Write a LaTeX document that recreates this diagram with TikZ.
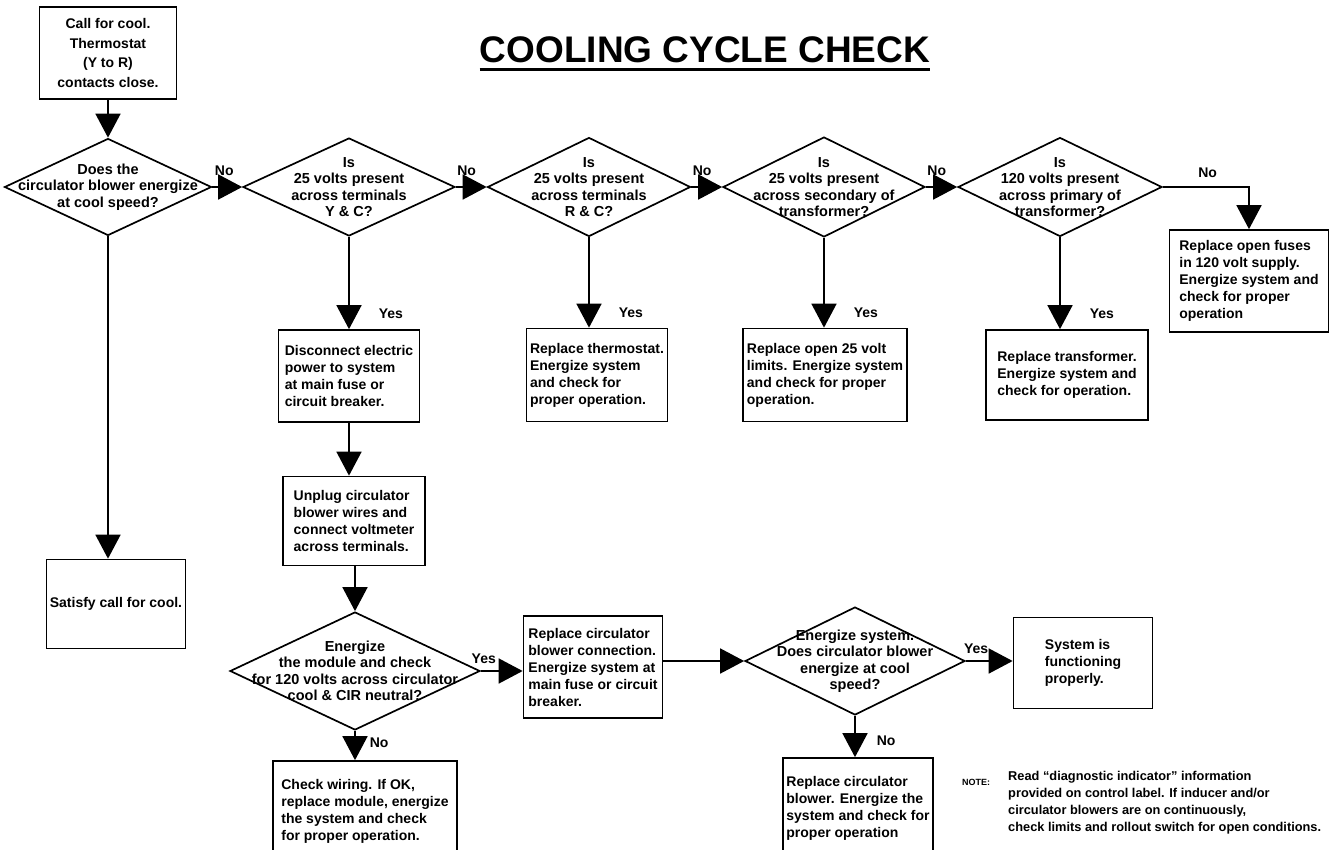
\documentclass[tikz,border=0pt]{standalone}
\usepackage{fontspec}
\setmainfont{Liberation Sans}
\usepackage{tikz}
\usetikzlibrary{shapes,arrows.meta}

\newcommand{\boxfont}{\fontsize{14}{17}\selectfont\bfseries}
\newcommand{\qfont}{\fontsize{14.5}{16.5}\selectfont\bfseries}

\begin{document}
\begin{tikzpicture}[x=1pt, y=-1pt,
        box/.style={draw, line width=\lw, rectangle, align=left, inner sep=2pt, font=\boxfont},
        decision/.style={draw, line width=\lw, diamond, inner sep=0pt},
        flow/.style={line width=\lw, -{Triangle[length=24pt,width=25pt]}},
        every label/.style={align=center, font=\qfont, inner sep=0pt},
        tag/.style={font=\boxfont, inner sep=1pt}]

        % Parameters
        \def\lw{1.7pt}     % line width of boxes and connectors
        \def\rowy{187}     % height of the question row

        \clip (0,0) rectangle (1333,849);
        \fill[white] (0,0) rectangle (1333,849);

        % Title
        \node[font=\fontsize{37}{40}\selectfont\bfseries, inner sep=0pt] (title) at (705,50) {COOLING CYCLE CHECK};
        \draw[line width=3pt] ([yshift=-6pt]title.south west) -- ([yshift=-6pt]title.south east);

        % Start
        \node[box, align=center, font=\fontsize{14}{19.5}\selectfont\bfseries,
                minimum width=137pt, minimum height=92pt] (call) at (108,53)
                {Call for cool.\\Thermostat\\(Y to R)\\contacts close.};

        % Row of questions
        \node[decision, minimum width=207pt, minimum height=97pt,
                label={center:{Does the\\circulator blower energize\\at cool speed?}}] (blower) at (108,\rowy) {};
        \node[decision, minimum width=212pt, minimum height=98pt,
                label={center:{Is\\25 volts present\\across terminals\\Y \& C?}}] (yc) at (349,\rowy) {};
        \node[decision, minimum width=203pt, minimum height=99pt,
                label={center:{Is\\25 volts present\\across terminals\\R \& C?}}] (rc) at (589,\rowy) {};
        \node[decision, minimum width=202pt, minimum height=100pt,
                label={center:{Is\\25 volts present\\across secondary of\\transformer?}}] (sec) at (824,\rowy) {};
        \node[decision, minimum width=204pt, minimum height=99pt,
                label={center:{Is\\120 volts present\\across primary of\\transformer?}}] (pri) at (1060,\rowy) {};

        % Answers of the row
        \node[box, minimum width=141pt, minimum height=92pt] (disc) at (349,376)
                {Disconnect electric\\power to system\\at main fuse or\\circuit breaker.};
        \node[box, minimum width=141pt, minimum height=93pt] (therm) at (597,375)
                {Replace thermostat.\\Energize system\\and check for\\proper operation.};
        \node[box, minimum width=164pt, minimum height=93pt] (lim) at (825,375)
                {Replace open 25 volt\\limits. Energize system\\and check for proper\\operation.};
        \node[box, minimum width=162pt, minimum height=90pt] (trans) at (1067,375)
                {Replace transformer.\\Energize system and\\check for operation.};
        \node[box, minimum width=159pt, minimum height=102pt] (fuse) at (1249,281)
                {Replace open fuses\\in 120 volt supply.\\Energize system and\\check for proper\\operation};
        \node[box, minimum width=139pt, minimum height=89pt] (sat) at (116,604)
                {Satisfy call for cool.};

        % Blower check
        \node[box, minimum width=142pt, minimum height=89pt] (unplug) at (354,521)
                {Unplug circulator\\blower wires and\\connect voltmeter\\across terminals.};
        \node[decision, minimum width=250pt, minimum height=118pt,
                label={center:{Energize\\the module and check\\for 120 volts across circulator\\cool \& CIR neutral?}}] (module) at (355,671) {};
        \node[box, minimum width=184pt, minimum height=100pt] (wiring) at (365,811)
                {Check wiring. If OK,\\replace module, energize\\the system and check\\for proper operation.};
        \node[box, minimum width=139pt, minimum height=102pt] (conn) at (593,667)
                {Replace circulator\\blower connection.\\Energize system at\\main fuse or circuit\\breaker.};
        \node[decision, minimum width=220pt, minimum height=108pt,
                label={center:{Energize system.\\Does circulator blower\\energize at cool\\speed?}}] (again) at (855,661) {};
        \node[box, minimum width=139pt, minimum height=91pt] (ok) at (1083,663)
                {System is\\functioning\\properly.};
        \node[box, minimum width=150pt, minimum height=100pt] (repl) at (858,808)
                {Replace circulator\\blower. Energize the\\system and check for\\proper operation};

        % Note
        \node[font=\fontsize{9}{10}\selectfont\bfseries, anchor=west, inner sep=0pt] (notetag) at (962,782) {NOTE:};
        \node[font=\fontsize{12.8}{17}\selectfont\bfseries, align=left, anchor=north west, inner sep=0pt] (note) at (1008,771)
                {Read “diagnostic indicator” information\\provided on control label. If inducer and/or\\circulator blowers are on continuously,\\check limits and rollout switch for open conditions.};

        % Connectors
        \draw[flow] (call) -- (blower);
        \draw[flow] (blower) -- node[tag, above=10pt, pos=0.4] {No} (yc);
        \draw[flow] (yc) -- node[tag, above=10pt, pos=0.35] {No} (rc);
        \draw[flow] (rc) -- node[tag, above=10pt, pos=0.35] {No} (sec);
        \draw[flow] (sec) -- node[tag, above=10pt, pos=0.35] {No} (pri);
        \draw[flow] (pri.east) -| node[tag, above=8pt, pos=0.26] {No} (fuse.north);

        \draw[flow] (yc.south) -- node[tag, right=28pt, pos=0.83] {Yes} (yc.south |- disc.north);
        \draw[flow] (rc.south) -- node[tag, right=28pt, pos=0.83] {Yes} (rc.south |- therm.north);
        \draw[flow] (sec.south) -- node[tag, right=28pt, pos=0.83] {Yes} (sec.south |- lim.north);
        \draw[flow] (pri.south) -- node[tag, right=28pt, pos=0.83] {Yes} (pri.south |- trans.north);
        \draw[flow] (blower.south) -- (blower.south |- sat.north);

        \draw[flow] (disc.south) -- (disc.south |- unplug.north);
        \draw[flow] (unplug.south -| module.north) -- (module.north);
        \draw[flow] (module.east) -- node[tag, above=6pt, pos=0.07] {Yes} (module.east -| conn.west);
        \draw[flow] (module.south) -- node[tag, right=13pt, pos=0.4] {No} (module.south |- wiring.north);
        \draw[flow] (conn.east |- again.west) -- (again.west);
        \draw[flow] (again.east) -- node[tag, above=6pt, pos=0.22] {Yes} (again.east -| ok.west);
        \draw[flow] (again.south) -- node[tag, right=20pt, pos=0.6] {No} (again.south |- repl.north);

\end{tikzpicture}
\end{document}
